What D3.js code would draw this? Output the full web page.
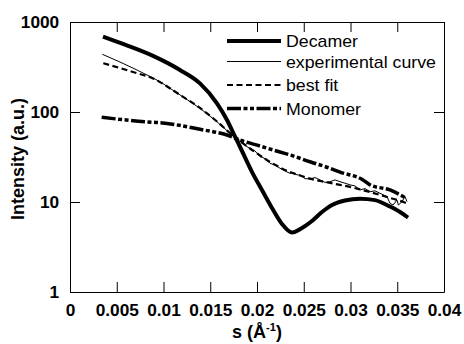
<!DOCTYPE html>
<html><head><meta charset="utf-8">
<script src="https://d3js.org/d3.v7.min.js"></script>
<style>
html,body{margin:0;padding:0;background:#fff;}
svg{display:block;font-family:"Liberation Sans",Arial,sans-serif;}
</style></head>
<body><svg id="c" width="464" height="344"></svg>
<script>
// ---- data ----
const xTicks = [0, 0.005, 0.01, 0.015, 0.02, 0.025, 0.03, 0.035, 0.04];
const xTickLabels = ["0", "0.005", "0.01", "0.015", "0.02", "0.025", "0.03", "0.035", "0.04"];
const yTicks = [1, 10, 100, 1000];
const yTickLabels = ["1", "10", "100", "1000"];
const seriesNames = ["Decamer", "experimental curve", "best fit", "Monomer"];

const decamerS = [0.00353,0.00588,0.00888,0.01176,0.0139,0.01572,0.01679,0.01765,0.01818,0.01947,0.02053,0.0216,0.02267,0.02374,0.02481,0.02588,0.02695,0.02802,0.02941,0.03102,0.03262,0.03422,0.0353,0.03615];
const decamerI = [690,560,420,293,208,125,81.5,53.2,41.1,21.5,13.6,8.6,5.7,4.58,5.14,6.15,7.74,9.26,10.4,10.9,10.5,8.9,7.74,6.72];

const expS = [0.003455,0.00535,0.00695,0.00856,0.00963,0.01176,0.0139,0.01572,0.01711,0.01797,0.01893,0.01925,0.01979,0.02032,0.02064,0.02107,0.02139,0.02193,0.02246,0.023,0.02353,0.02385,0.02428,0.0246,0.02513,0.02567,0.0262,0.02674,0.02727,0.02781,0.02834,0.02888,0.02941,0.02995,0.03048,0.03102,0.03155,0.03209,0.03262,0.03316,0.0339,0.03422,0.03455,0.03497,0.03513,0.03551,0.03583,0.03604];
const expI = [438,359,300,248,217,155,110,78,58,48.9,41.2,39.4,36.9,31.9,31.2,29.3,26.9,25.8,23.7,22.1,20.8,21.3,20,20,18.2,18,18.7,17.6,16.5,16.8,17.6,16.8,16.2,15.5,15.1,13.6,14.1,13.0,13.3,12.5,11.5,9.67,9.26,10.5,9.26,10.1,11.5,10.1];

const fitS = [0.00356,0.00535,0.00674,0.00888,0.01176,0.0139,0.01572,0.01711,0.01818,0.01925,0.02032,0.02139,0.02246,0.02353,0.0246,0.02567,0.02674,0.02781,0.02888,0.02995,0.03102,0.03209,0.03316,0.03422,0.0353,0.03594];
const fitI = [348,308,278,236,155,111,78.4,58.4,47.6,39.3,32.9,27.8,24.2,21.5,19.7,18.2,17.1,16.3,15.5,14.7,13.8,12.9,12.0,11.1,10.3,9.75];

const monoS = [0.00339,0.00891,0.00963,0.0139,0.01679,0.01818,0.02032,0.02246,0.02353,0.02567,0.02781,0.02888,0.03134,0.03209,0.03422,0.03583];
const monoI = [87.3,76.8,76,64.2,55.5,48.9,41.9,35.9,33.3,28,23.7,21.5,17.6,15.5,13.6,11.2];

// ---- layout ----
const svg = d3.select("#c");
const L = 70, R = 444, T = 22, B = 292;
const x = d3.scaleLinear().domain([0, 0.04]).range([L, R]);
const y = d3.scaleLog().domain([1, 1000]).range([B, T]);

const fontTick = 'bold 16px "Liberation Sans", Arial, sans-serif';

// axes
svg.append("g").attr("transform", `translate(0,${B})`)
  .call(d3.axisBottom(x).tickValues(xTicks).tickSizeInner(-10).tickSizeOuter(0).tickPadding(12.5)
    .tickFormat((d,i) => xTickLabels[i]));
svg.append("g").attr("transform", `translate(0,${T})`)
  .call(d3.axisTop(x).tickValues(xTicks).tickSizeInner(-10).tickSizeOuter(0).tickFormat(""));
svg.append("g").attr("transform", `translate(${L},0)`)
  .call(d3.axisLeft(y).tickValues(yTicks).tickSizeInner(-10).tickSizeOuter(0).tickPadding(10)
    .tickFormat((d,i) => yTickLabels[i]));
svg.append("g").attr("transform", `translate(${R},0)`)
  .call(d3.axisRight(y).tickValues(yTicks).tickSizeInner(-10).tickSizeOuter(0).tickFormat(""));

svg.selectAll(".domain, .tick line").attr("stroke", "#000").attr("stroke-width", 1);
svg.selectAll(".tick text").attr("fill", "#000").style("font", fontTick)
  .attr("transform", "scale(1.08,1)");

// axis titles
svg.append("text").attr("transform", "translate(24,159) rotate(-90)")
  .attr("text-anchor", "middle").style("font", 'bold 18px "Liberation Sans", Arial, sans-serif')
  .text("Intensity (a.u.)");
const xt = svg.append("text").attr("x", (L + R) / 2).attr("y", 338).attr("text-anchor", "middle")
  .style("font", 'bold 18px "Liberation Sans", Arial, sans-serif');
xt.append("tspan").text("s (Å");
xt.append("tspan").attr("dy", -7).style("font-size", "11px").text("-1");
xt.append("tspan").attr("dy", 7).text(")");

// series
const styles = [
  {w: 4, dash: null},
  {w: 1, dash: null},
  {w: 2.2, dash: "6,3.5"},
  {w: 3.5, dash: "14,2.5,4,2.5,4,2.5"}
];
const data = [
  d3.zip(decamerS, decamerI),
  d3.zip(expS, expI),
  d3.zip(fitS, fitI),
  d3.zip(monoS, monoI)
];
const curves = [d3.curveMonotoneX, d3.curveLinear, d3.curveMonotoneX, d3.curveMonotoneX];
const plot = svg.append("g");
[3, 2, 1, 0].forEach(k => {
  const line = d3.line().x(d => x(d[0])).y(d => y(d[1])).curve(curves[k]);
  plot.append("path").datum(data[k]).attr("d", line)
    .attr("fill", "none").attr("stroke", "#000")
    .attr("stroke-width", styles[k].w)
    .attr("stroke-dasharray", styles[k].dash)
    .attr("stroke-linejoin", "round");
});

// legend
const legY = [41, 61.5, 85, 108.5];
const leg = svg.append("g");
seriesNames.forEach((name, k) => {
  leg.append("line").attr("x1", 227).attr("x2", 281).attr("y1", legY[k]).attr("y2", legY[k])
    .attr("stroke", "#000").attr("stroke-width", styles[k].w).attr("stroke-dasharray", styles[k].dash);
  leg.append("text").attr("transform", `translate(286,${legY[k] + 6}) scale(1.11,1)`)
    .style("font", '16px "Liberation Sans", Arial, sans-serif').attr("fill", "#000").text(name);
});
</script></body></html>
